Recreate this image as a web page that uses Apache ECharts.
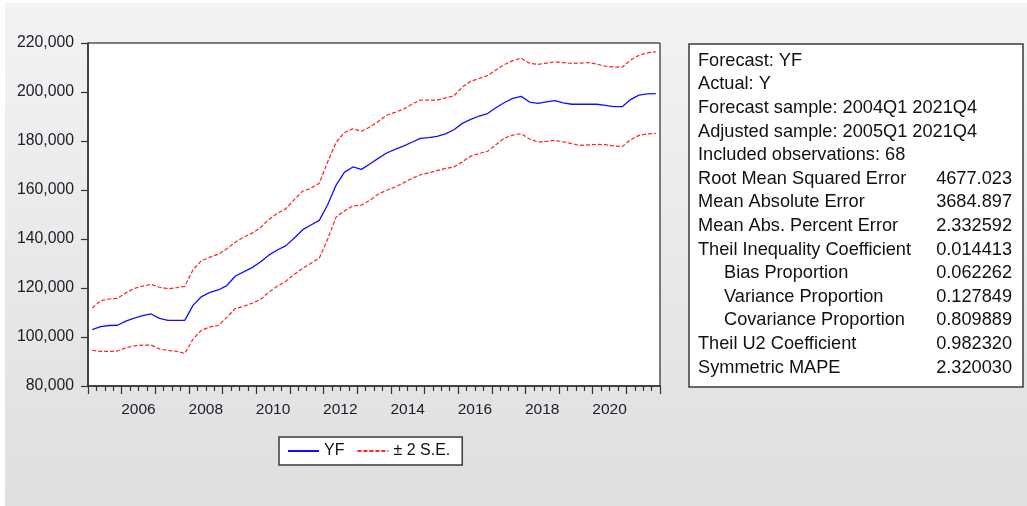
<!DOCTYPE html>
<html>
<head>
<meta charset="utf-8">
<script src="https://cdn.jsdelivr.net/npm/echarts@6/dist/echarts.min.js"></script>
<style>
  body { margin: 0; background: #fff; }
  #bg { position: absolute; left: 5px; top: 3px; right: 0; bottom: 0; background: linear-gradient(#f3f3f3, #dfdfdf); }
  #chart { position: absolute; left: 0; top: 0; width: 1027px; height: 506px; }
</style>
</head>
<body>
<div id="bg"></div>
<div id="chart"></div>
<script>
  // quarterly sample 2005Q1..2021Q4
  var startYear = 2005
  var quarters = []
  for (var y = startYear; y <= 2021; y++) {
    for (var q = 1; q <= 4; q++) quarters.push(y + 'Q' + q)
  }

  var yf = [
    103000, 104200, 104700, 104800, 106500, 107700, 108700, 109400, 107600, 106800, 106800, 106800,
    113000, 116500, 118200, 119200, 121000, 124800, 126600, 128300, 130600, 133400, 135500, 137200,
    140300, 143700, 145700, 147600, 154100, 162000, 167300, 169400, 168400, 170600, 172900, 175100,
    176600, 177900, 179500, 181100, 181400, 181900, 182900, 184600, 187200, 188800, 190200, 191200,
    193600, 195700, 197400, 198200, 195900, 195400, 196000, 196500, 195600, 195000, 195000, 195000,
    195000, 194500, 194000, 194000, 196900, 198700, 199200, 199300
  ]
  var upper = [
    111800, 114800, 115500, 115800, 118000, 119800, 120800, 121500, 120300, 119700, 120100, 120700,
    127500, 131200, 132600, 133800, 136000, 138700, 140700, 142400, 144600, 148000, 150400, 152300,
    156000, 159500, 160700, 162800, 171500, 179500, 183500, 185000, 184000, 185700, 188000, 190500,
    191700, 193000, 195000, 196700, 196700, 196700, 197600, 198400, 202000, 204400, 205500, 206700,
    209000, 211200, 212800, 213800, 211700, 211300, 211800, 212300, 212000, 211700, 211800, 212000,
    211400, 210500, 210200, 210100, 213000, 215000, 216000, 216400
  ]
  var lower = [
    94600, 94100, 94100, 94300, 95600, 96400, 96700, 96700, 95100, 94500, 94200, 93300,
    99200, 102800, 104100, 104700, 108000, 111600, 112500, 113800, 115300, 118300, 120700, 122700,
    125500, 128000, 130100, 132200, 140000, 149000, 151500, 153500, 153800, 155800, 158300, 159900,
    161200, 162900, 164700, 166200, 167000, 167900, 168800, 169400, 171500, 173800, 174900, 175800,
    178500, 181200, 182400, 183000, 180800, 179600, 179800, 180300, 179700, 178900, 178200, 178400,
    178600, 178500, 178000, 177700, 180500, 182300, 182900, 183100
  ]

  var statLabels = [
    'Forecast: YF', 'Actual: Y', 'Forecast sample: 2004Q1 2021Q4', 'Adjusted sample: 2005Q1 2021Q4',
    'Included observations: 68', 'Root Mean Squared Error', 'Mean Absolute Error',
    'Mean Abs. Percent Error', 'Theil Inequality Coefficient', 'Bias Proportion',
    'Variance Proportion', 'Covariance Proportion', 'Theil U2 Coefficient', 'Symmetric MAPE'
  ]
  var statValues = ['', '', '', '', '', '4677.023', '3684.897', '2.332592', '0.014413',
    '0.062262', '0.127849', '0.809889', '0.982320', '2.320030']
  var statIndent = [9, 10, 11]

  var FONT = '"Liberation Sans", Arial, sans-serif'

  // points sit in the middle of each quarter slot
  function pts(arr) {
    return arr.map(function (v, i) { return [i + 0.5, v] })
  }

  var graphics = [{
    type: 'rect',
    shape: { x: 689, y: 44, width: 334, height: 343 },
    style: { fill: '#fff', stroke: '#3a3a3a', lineWidth: 1.5 }
  }]
  statLabels.forEach(function (t, k) {
    var yy = 60.7 + k * 23.6
    var xx = statIndent.indexOf(k) >= 0 ? 724 : 698
    graphics.push({
      type: 'text', x: xx, y: yy,
      style: { text: t, font: '18.2px ' + FONT, fill: '#111', align: 'left', verticalAlign: 'middle', textAlign: 'left', textVerticalAlign: 'middle' }
    })
    if (statValues[k]) {
      graphics.push({
        type: 'text', x: 1012, y: yy,
        style: { text: statValues[k], font: '18.2px ' + FONT, fill: '#111', align: 'right', verticalAlign: 'middle', textAlign: 'right', textVerticalAlign: 'middle' }
      })
    }
  })

  var chart = echarts.init(document.getElementById('chart'))
  chart.setOption({
    animation: false,
    backgroundColor: 'transparent',
    grid: {
      left: 88, top: 43, width: 572, height: 343,
      show: true, backgroundColor: '#fff', borderColor: '#000', borderWidth: 1
    },
    xAxis: [{
      type: 'value', position: 'bottom', min: 0, max: quarters.length, interval: 4,
      axisLine: { lineStyle: { color: '#333', width: 1.5 } },
      axisTick: { length: 8, lineStyle: { color: '#333', width: 1.2 } },
      minorTick: { show: true, splitNumber: 4, length: 5, lineStyle: { color: '#333', width: 1.2 } },
      axisLabel: { show: false },
      splitLine: { show: false }
    }, {
      type: 'value', position: 'bottom', min: 0, max: quarters.length, interval: 2,
      axisLine: { show: false },
      axisTick: { show: false },
      splitLine: { show: false },
      axisLabel: {
        margin: 16, fontSize: 15.5, fontFamily: FONT, color: '#1c1c2a',
        formatter: function (v) {
          // year labels centred in each even year's span
          if (v >= 6 && (v - 6) % 8 === 0) return String(startYear + (v - 2) / 4)
          return ''
        }
      }
    }],
    yAxis: {
      type: 'value', min: 80000, max: 220000, interval: 20000,
      axisLine: { show: true, lineStyle: { color: '#333', width: 1.5 } },
      axisTick: { show: true, length: 7, lineStyle: { color: '#333', width: 1.2 } },
      splitLine: { show: false },
      axisLabel: {
        margin: 14, fontSize: 15.8, fontFamily: FONT, color: '#1c1c2a',
        formatter: function (v) { return v.toLocaleString('en-US') }
      }
    },
    legend: {
      left: 279, top: 437,
      padding: [6, 12, 6, 8],
      itemWidth: 31, itemHeight: 14, itemGap: 12,
      borderColor: '#3a3a3a', borderWidth: 1.5, backgroundColor: '#fff',
      itemStyle: { opacity: 0 },
      textStyle: { fontSize: 16, fontFamily: FONT, color: '#111' },
      data: ['YF', '± 2 S.E.']
    },
    series: [{
      name: 'YF', type: 'line', xAxisIndex: 0, data: pts(yf),
      symbol: 'none', lineStyle: { color: '#1010ff', width: 1.3 }, itemStyle: { color: '#1010ff' }
    }, {
      name: '± 2 S.E.', type: 'line', xAxisIndex: 0, data: pts(upper),
      symbol: 'none', lineStyle: { color: '#ff2020', width: 1.2, type: [4, 2] }, itemStyle: { color: '#ff2020' }
    }, {
      name: '± 2 S.E.', type: 'line', xAxisIndex: 0, data: pts(lower),
      symbol: 'none', lineStyle: { color: '#ff2020', width: 1.2, type: [4, 2] }, itemStyle: { color: '#ff2020' }
    }],
    graphic: graphics
  })
</script>
</body>
</html>
